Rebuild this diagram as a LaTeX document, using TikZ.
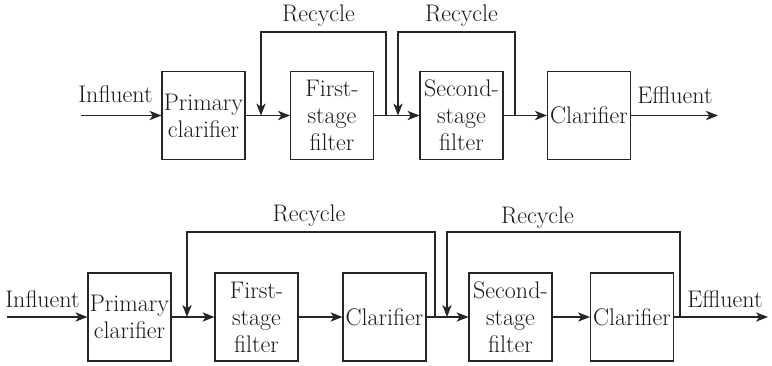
\documentclass[tikz,border=0pt]{standalone}
\usetikzlibrary{arrows.meta}
\begin{document}
\begin{tikzpicture}[x=0.75pt,y=-0.75pt,
  font=\fontsize{18}{20.25}\selectfont,
  line width=0.8pt, draw=black!85, text=black!90,
  unit/.style={draw=black!85, minimum width=62.25pt, minimum height=66pt, inner sep=0pt, align=center},
  lbl/.style={anchor=base, inner sep=0pt},
  arr/.style={draw=black!85, -{Stealth[length=9pt,width=7pt,inset=2.5pt]}}]
\useasboundingbox (0,0) rectangle (772,365);
% ---------- top process ----------
\node[unit] (tp) at (203.5,115.5) {Primary\\clarifier};
\node[unit] (tf) at (332,115.5) {First-\\stage\\filter};
\node[unit] (ts) at (461.5,115.5) {Second-\\stage\\filter};
\node[unit] (tc) at (589,115.5) {Clarifier};
\coordinate (tin) at (81,115.5);
\coordinate (tout) at (718,115.5);
\coordinate (tr1a) at (386,32);
\coordinate (tr1b) at (261,32);
\coordinate (tr2a) at (515,32);
\coordinate (tr2b) at (398,32);
\node[lbl] (tinl) at (115.5,102) {Influent};
\node[lbl] (toutl) at (675,103) {Effluent};
\node[lbl] (trl1) at (318.5,21) {Recycle};
\node[lbl] (trl2) at (461.5,21) {Recycle};
\draw[arr] (tin) -- (tp);
\draw[arr] (tp) -- (tf);
\draw[arr] (tf) -- (ts);
\draw[arr] (ts) -- (tc);
\draw[arr] (tc) -- (tout);
\draw[arr] (tr1a |- tf.east) -- (tr1a) -- (tr1b) -- (tr1b |- tf.east);
\draw[arr] (tr2a |- ts.east) -- (tr2a) -- (tr2b) -- (tr2b |- ts.east);
% ---------- bottom process ----------
\node[unit] (bp) at (129.5,317) {Primary\\clarifier};
\node[unit] (bf) at (256.5,317) {First-\\stage\\filter};
\node[unit] (bc1) at (384.5,317) {Clarifier};
\node[unit] (bs) at (510.5,317) {Second-\\stage\\filter};
\node[unit] (bc2) at (632,317) {Clarifier};
\coordinate (bin) at (7,317);
\coordinate (bout) at (768,317);
\coordinate (br1a) at (435,232);
\coordinate (br1b) at (187,232);
\coordinate (br2a) at (680,232);
\coordinate (br2b) at (447,232);
\node[lbl] (binl) at (42.5,307) {Influent};
\node[lbl] (boutl) at (725,307) {Effluent};
\node[lbl] (brl1) at (309,221) {Recycle};
\node[lbl] (brl2) at (537.5,223) {Recycle};
\draw[arr] (bin) -- (bp);
\draw[arr] (bp) -- (bf);
\draw[arr] (bf) -- (bc1);
\draw[arr] (bc1) -- (bs);
\draw[arr] (bs) -- (bc2);
\draw[arr] (bc2) -- (bout);
\draw[arr] (br1a |- bc1.east) -- (br1a) -- (br1b) -- (br1b |- bp.east);
\draw[arr] (br2a |- bc2.east) -- (br2a) -- (br2b) -- (br2b |- bs.west);
\end{tikzpicture}
\end{document}
